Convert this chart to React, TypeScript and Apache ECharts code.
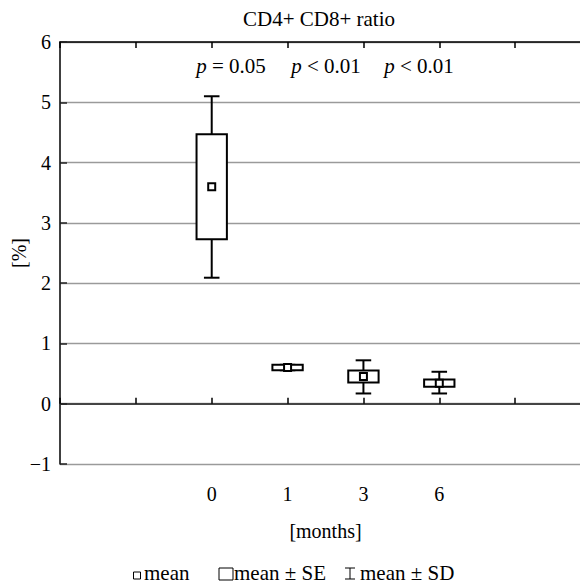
import React, { useEffect, useRef } from "react";
import * as echarts from "echarts";

// ---- data ----
const months = ["0", "1", "3", "6"];
const meanVals = [3.6, 0.6, 0.45, 0.34];
const seLow = [2.73, 0.555, 0.35, 0.28];
const seHigh = [4.47, 0.645, 0.55, 0.4];
const sdLow = [2.09, 0.555, 0.17, 0.17];
const sdHigh = [5.1, 0.645, 0.72, 0.53];
const pOps = ["= 0.05", "< 0.01", "< 0.01"];
const titleText = "CD4+ CD8+ ratio";
const yTitle = "[%]";
const xTitle = "[months]";
const legendTexts = ["mean", "mean \u00b1 SE", "mean \u00b1 SD"];

const FONT = "Liberation Serif, serif";
const slotOf = (i: number) => i + 2; // month i sits at slot i+2 on a 0..7 axis

export default function App() {
  const ref = useRef<HTMLDivElement>(null);

  useEffect(() => {
    if (!ref.current) return;
    const chart = echarts.init(ref.current, undefined, { renderer: "svg" });

    const data = months.map((_, i) => [
      slotOf(i),
      sdLow[i],
      seLow[i],
      meanVals[i],
      seHigh[i],
      sdHigh[i],
    ]);

    const labelFor = (v: number) => {
      const idx = months.findIndex((_, i) => slotOf(i) === v);
      return idx >= 0 ? months[idx] : "";
    };

    const axisText = { fontFamily: FONT, fontSize: 20, color: "#000" };
    const legendStyle = (text: string) => ({
      text,
      fontFamily: FONT,
      fontSize: 21,
      fill: "#000",
      align: "left",
      verticalAlign: "middle",
    });

    const option: any = {
      animation: false,
      backgroundColor: "#fff",
      textStyle: { fontFamily: FONT },
      grid: {
        left: 60,
        top: 42,
        width: 531,
        height: 422,
        containLabel: false,
        outerBoundsMode: "none",
      },
      xAxis: [
        {
          type: "value",
          position: "bottom",
          min: 0,
          max: 7,
          interval: 1,
          axisLine: { show: true, lineStyle: { color: "#444", width: 2 } },
          axisTick: { show: true, inside: true, length: 6, lineStyle: { color: "#000", width: 1.5 } },
          axisLabel: { ...axisText, margin: 20, formatter: (v: number) => labelFor(v) },
          splitLine: { show: false },
          name: xTitle,
          nameLocation: "middle",
          nameGap: 57,
          nameMoveOverlap: false,
          nameTextStyle: { ...axisText },
        },
        {
          type: "value",
          position: "top",
          min: 0,
          max: 7,
          interval: 1,
          axisLine: { show: true, lineStyle: { color: "#000", width: 1.5 } },
          axisTick: { show: true, inside: true, length: 6, lineStyle: { color: "#000", width: 1.5 } },
          axisLabel: { show: false },
          splitLine: { show: false },
        },
      ],
      yAxis: {
        type: "value",
        min: -1,
        max: 6,
        interval: 1,
        axisLine: { show: true, lineStyle: { color: "#000", width: 1.5 } },
        axisTick: { show: true, inside: true, length: 7, lineStyle: { color: "#222", width: 1.5 } },
        axisLabel: {
          ...axisText,
          margin: 9,
          formatter: (v: number) => (v < 0 ? "\u2212" + Math.abs(v) : String(v)),
        },
        splitLine: { show: true, lineStyle: { color: "#9a9a9a", width: 1.3 } },
        name: yTitle,
        nameLocation: "middle",
        nameGap: 31,
        nameMoveOverlap: false,
        nameTextStyle: { ...axisText },
      },
      series: [
        {
          type: "custom",
          xAxisIndex: 0,
          yAxisIndex: 0,
          data,
          encode: { x: 0, y: [1, 2, 3, 4, 5] },
          renderItem: (params: any, api: any) => {
            const x = api.value(0);
            const [cx, yMean] = api.coord([x, api.value(3)]);
            const ySdLo = api.coord([x, api.value(1)])[1];
            const ySeLo = api.coord([x, api.value(2)])[1];
            const ySeHi = api.coord([x, api.value(4)])[1];
            const ySdHi = api.coord([x, api.value(5)])[1];
            const unit = api.size([1, 0])[0];
            const w = unit * 0.4;
            const cap = unit * 0.205;
            const m = 7;
            const st = { stroke: "#000", lineWidth: 2 };
            return {
              type: "group",
              children: [
                { type: "line", shape: { x1: cx, y1: ySdHi, x2: cx, y2: ySeHi }, style: st },
                { type: "line", shape: { x1: cx, y1: ySeLo, x2: cx, y2: ySdLo }, style: st },
                { type: "line", shape: { x1: cx - cap / 2, y1: ySdHi, x2: cx + cap / 2, y2: ySdHi }, style: st },
                { type: "line", shape: { x1: cx - cap / 2, y1: ySdLo, x2: cx + cap / 2, y2: ySdLo }, style: st },
                {
                  type: "rect",
                  shape: { x: cx - w / 2, y: ySeHi, width: w, height: ySeLo - ySeHi },
                  style: { fill: "#fff", ...st },
                },
                {
                  type: "rect",
                  shape: { x: cx - m / 2, y: yMean - m / 2, width: m, height: m },
                  style: { fill: "#fff", ...st },
                },
              ],
            };
          },
        },
      ],
      graphic: [
        {
          type: "text",
          x: 319,
          y: 19,
          style: {
            text: titleText,
            fontFamily: FONT,
            fontSize: 21,
            fill: "#000",
            align: "center",
            verticalAlign: "middle",
          },
        },
        ...pOps.map((op, i) => ({
          type: "text",
          x: [231, 326, 419][i],
          y: 65.5,
          style: {
            text: "{i|p} " + op,
            fontFamily: FONT,
            fontSize: 21,
            fill: "#000",
            align: "center",
            verticalAlign: "middle",
            rich: {
              i: { fontFamily: FONT, fontSize: 21, fontStyle: "italic", fill: "#000" },
            },
          },
        })),
        // legend
        {
          type: "rect",
          shape: { x: 133.5, y: 572, width: 7, height: 7 },
          style: { fill: "#fff", stroke: "#000", lineWidth: 1 },
        },
        { type: "text", x: 144, y: 573, style: legendStyle(legendTexts[0]) },
        {
          type: "rect",
          shape: { x: 219, y: 568, width: 14, height: 12 },
          style: { fill: "#fff", stroke: "#000", lineWidth: 1 },
        },
        { type: "text", x: 234, y: 573, style: legendStyle(legendTexts[1]) },
        {
          type: "line",
          shape: { x1: 345, y1: 568, x2: 355, y2: 568 },
          style: { stroke: "#000", lineWidth: 1 },
        },
        {
          type: "line",
          shape: { x1: 350, y1: 568, x2: 350, y2: 579 },
          style: { stroke: "#000", lineWidth: 1 },
        },
        {
          type: "line",
          shape: { x1: 345, y1: 579, x2: 355, y2: 579 },
          style: { stroke: "#000", lineWidth: 1 },
        },
        { type: "text", x: 360, y: 573, style: legendStyle(legendTexts[2]) },
      ],
    };

    chart.setOption(option);
    return () => chart.dispose();
  }, []);

  return (
    <div
      ref={ref}
      style={{ position: "fixed", left: 0, top: 0, width: 580, height: 584, overflow: "hidden", background: "#fff" }}
    />
  );
}
